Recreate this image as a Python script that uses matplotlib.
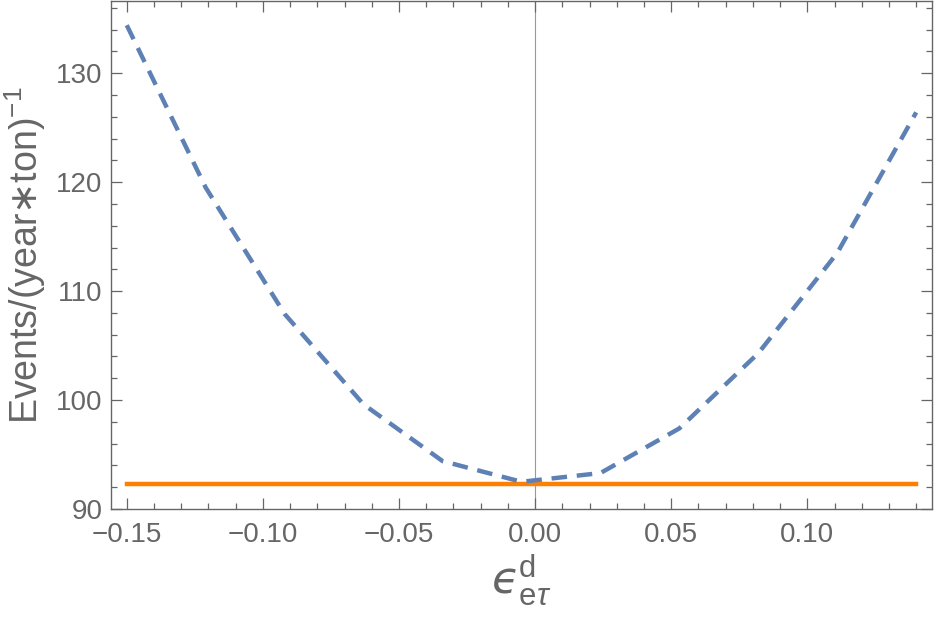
import matplotlib
matplotlib.use("Agg")
import matplotlib.pyplot as plt
from matplotlib.ticker import MultipleLocator

# --- data ---
eps = [-0.150, -0.121, -0.092, -0.063, -0.034, -0.005, 0.024, 0.053, 0.082, 0.111, 0.140]
events = [134.4, 119.5, 107.9, 99.6, 94.4, 92.5, 93.3, 97.4, 104.3, 113.5, 126.4]
sm_level = 92.3

gray = '#666666'
plt.rcParams['font.family'] = ['Liberation Sans', 'DejaVu Sans']
plt.rcParams['mathtext.fontset'] = 'custom'
plt.rcParams['mathtext.rm'] = 'Liberation Sans'
plt.rcParams['mathtext.it'] = 'Liberation Sans:italic'
plt.rcParams['mathtext.sf'] = 'DejaVu Sans'
plt.rcParams['mathtext.bf'] = 'DejaVu Sans:italic'
plt.rcParams['mathtext.fallback'] = 'stixsans'
plt.rcParams['mathtext.default'] = 'regular'

fig = plt.figure(figsize=(9.38, 6.17), dpi=100)
ax = fig.add_axes([0.1183, 0.175, 0.8753, 0.823])

ax.axvline(0, color='#999999', lw=0.8, zorder=1)
ax.plot([eps[0], eps[-1]], [sm_level, sm_level], color='#FF8000', lw=3.2, zorder=2)
ax.plot(eps, events, color='#5E81B5', lw=3.2, dashes=(3.5, 2.2), zorder=3)

ax.set_xlim(-0.1558, 0.1458)
ax.set_ylim(90, 136.6)

ax.xaxis.set_major_locator(MultipleLocator(0.05))
ax.xaxis.set_minor_locator(MultipleLocator(0.01))
ax.yaxis.set_major_locator(MultipleLocator(10))
ax.yaxis.set_minor_locator(MultipleLocator(2))
ax.xaxis.set_major_formatter(plt.FuncFormatter(lambda v, p: f"{v:.2f}".replace('-', '\u2212')))

ax.tick_params(which='both', direction='in', top=True, right=True, color=gray,
               labelcolor=gray, labelsize=20, width=0.9)
ax.tick_params(which='major', length=8)
ax.tick_params(which='minor', length=4)
ax.tick_params(axis='x', pad=9)
ax.tick_params(axis='y', pad=6)
for s in ax.spines.values():
    s.set_color(gray)
    s.set_linewidth(1.0)

ax.set_ylabel(r'Events/(year$\mathsf{\ast}$ton)$^{-1}$', fontsize=27, color=gray, labelpad=6)
ax.set_xlabel('$\\mathbf{\u03f5}^{\\mathrm{d}}_{\\mathrm{e}\\it{\\tau}}$', fontsize=32, color=gray, labelpad=4)

fig.savefig('out.png', dpi=100)
